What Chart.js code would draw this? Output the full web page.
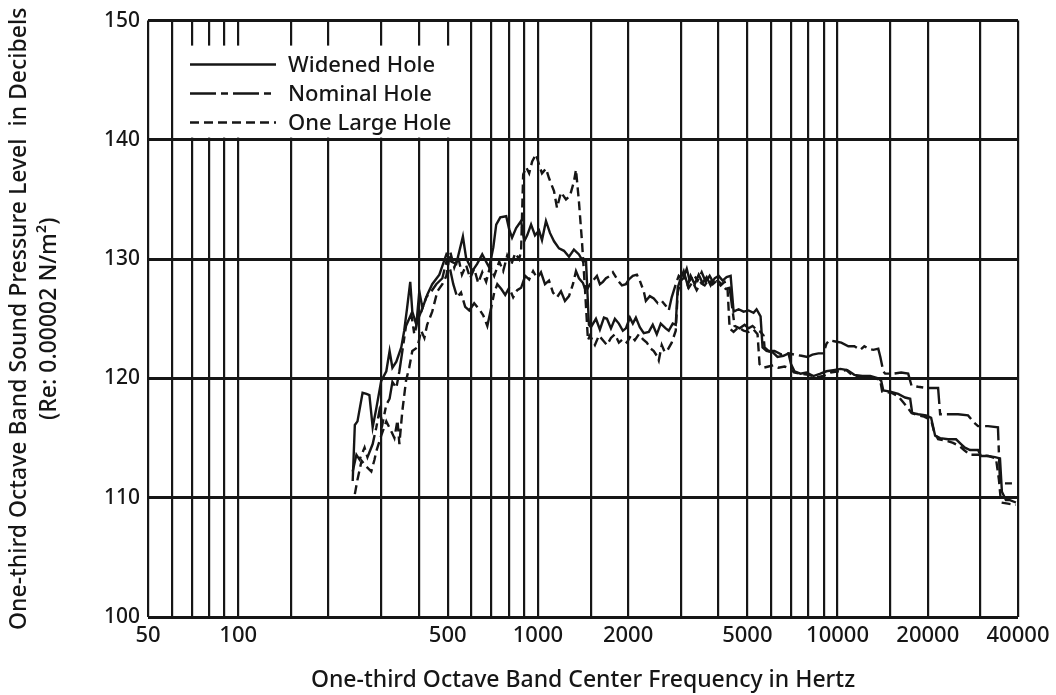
<!DOCTYPE html>
<html>
<head>
<meta charset="utf-8">
<script src="https://cdn.jsdelivr.net/npm/chart.js@4.4.1/dist/chart.umd.min.js"></script>
<style>
  html, body { margin: 0; padding: 0; background: #fff; }
  #wrap { width: 1056px; height: 695px; }
</style>
</head>
<body>
<div id="wrap"><canvas id="myChart" width="1056" height="695"></canvas></div>
<script>
// one-third octave spectra (Hz, dB)
var widenedFreq = [241,245,250,260,268,274,281,289,300,312,320,327,337,350,358,366,375,381,393,402,412,427,444,469,495,514,534,562,576,604,627,652,688,710,726,749,784,802,820,846,879,900,921,949,978,1009,1032,1064,1097,1132,1176,1222,1270,1319,1371,1414,1447,1480,1503,1562,1610,1661,1700,1753,1807,1863,1921,1966,2027,2074,2123,2188,2256,2345,2417,2493,2570,2670,2733,2818,2884,2928,2997,3066,3162,3234,3336,3440,3547,3657,3771,3889,4010,4134,4263,4397,4498,4675,4857,5047,5244,5366,5534,5619,5793,6066,6304,6600,6858,6991,7181,7519,7871,8306,8764,9177,9682,10216,10778,11374,12088,12856,13670,13985,14204,15000,15933,16800,17470,17740,18573,19740,20520,21160,21990,23374,24850,25820,26600,27670,29418,30110,31762,33515,34830,35350,36460,37600,39360]
var widenedDb = [111.4,116.1,116.4,118.8,118.7,118.6,115.9,117.5,119.8,120.6,122.3,120.9,121.4,122.6,124.0,125.9,128.1,125.6,124.5,127.3,125.9,127.0,127.9,128.7,130.4,129.8,129.6,131.9,130.1,129.0,129.6,130.4,129.3,131.0,132.9,133.5,133.6,132.5,131.8,132.6,133.2,131.5,132.0,132.9,132.0,132.4,131.6,133.2,132.2,131.5,130.9,130.7,130.2,130.8,130.4,129.8,129.9,124.5,124.3,125.0,124.1,125.1,125.0,124.2,125.0,124.6,124.0,124.2,125.1,124.6,125.1,124.3,123.8,123.9,124.5,123.7,124.6,124.2,124.0,124.6,124.5,127.6,128.4,129.0,127.8,128.6,127.9,128.7,128.0,128.5,127.8,128.4,128.6,128.2,128.5,128.6,125.6,125.8,125.6,125.7,125.5,125.8,125.2,122.6,122.3,122.2,121.8,121.9,122.1,121.2,120.6,120.4,120.5,120.2,120.4,120.6,120.7,120.8,120.7,120.3,120.2,120.2,120.0,119.8,119.0,118.9,118.7,118.4,118.3,117.1,117.0,116.9,116.7,115.2,115.0,114.9,114.9,114.5,114.2,114.0,114.0,113.5,113.5,113.4,113.3,110.5,109.8,109.8,109.6]

var nominalFreq = [241,248,254,264,270,281,289,296,303,312,320,327,337,345,353,363,378,387,396,412,424,441,458,480,495,510,522,538,554,572,590,613,637,657,678,693,715,732,755,778,802,827,853,879,907,935,964,994,1024,1056,1089,1123,1158,1194,1231,1270,1309,1340,1371,1414,1447,1492,1538,1574,1610,1648,1687,1739,1780,1821,1863,1907,1966,2011,2074,2140,2188,2256,2292,2363,2436,2512,2590,2670,2733,2796,2884,2951,3043,3138,3210,3310,3413,3520,3629,3742,3859,3979,4103,4231,4363,4532,4710,4895,5047,5204,5366,5534,5662,5706,5883,6160,6500,6858,7181,7576,7932,8243,8630,8968,9177,9390,9830,10291,10862,11374,11910,12280,12661,13156,13670,13890,14204,14420,15334,16300,17202,17650,18573,19740,21650,21990,23374,25236,27246,28530,29418,31762,34293,34830,37025,39360]
var nominalDb = [112.2,113.6,113.2,114.2,113.4,114.5,115.9,117.3,116.2,117.8,118.3,119.7,119.2,120.6,122.3,124.4,125.4,123.7,124.8,125.9,126.8,127.3,127.9,128.4,129.8,129.1,127.9,126.8,127.2,126.0,125.7,126.3,125.8,125.3,124.4,125.5,127.2,127.9,127.5,127.0,127.6,126.8,127.4,127.6,128.6,128.3,129.0,128.4,128.9,127.9,128.2,127.2,126.8,127.3,126.5,126.9,127.9,129.0,128.4,128.0,127.3,127.9,128.3,128.6,127.9,128.1,128.4,128.6,128.9,128.5,128.1,127.8,127.9,128.3,128.6,128.7,128.2,127.3,126.5,126.9,126.7,126.3,126.5,126.1,125.7,126.8,127.9,128.6,128.3,129.2,128.2,128.7,128.2,128.9,128.1,128.6,128.0,128.2,127.9,127.5,127.6,124.4,124.2,124.5,124.2,124.4,124.1,123.9,123.6,122.6,122.3,122.3,122.0,122.1,122.0,121.9,121.8,122.0,122.1,122.1,122.9,123.2,123.1,123.0,122.7,122.7,122.4,122.7,122.5,122.4,122.5,121.8,120.6,120.4,120.4,120.5,120.4,119.4,119.3,119.2,119.2,117.0,117.0,117.0,116.9,116.3,116.0,116.0,115.9,111.2,111.2,111.2]

var largeFreq = [245,250,258,268,278,285,289,300,312,325,332,340,345,353,363,372,381,396,408,418,427,444,462,480,495,510,526,542,558,576,594,613,632,652,672,693,715,743,766,790,814,840,866,879,893,914,935,957,986,1009,1032,1064,1089,1132,1158,1194,1241,1279,1319,1340,1371,1403,1436,1469,1492,1550,1598,1648,1700,1753,1807,1863,1921,1981,2043,2106,2172,2239,2309,2381,2436,2493,2531,2590,2651,2712,2796,2884,2928,2997,3090,3186,3285,3387,3493,3601,3714,3830,3949,4071,4197,4296,4363,4498,4675,4857,5047,5244,5407,5491,5662,5883,6113,6352,6652,6966,7153,7519,7994,8500,8968,9463,10060,10700,11286,11910,12661,13460,13890,14090,15100,15933,16555,17070,17650,18573,19450,20520,21000,21650,22850,24288,25620,26420,27670,29418,31762,33770,34550,35100,37025,39360]
var largeDb = [110.3,111.5,113.1,112.6,112.2,113.2,113.9,115.2,116.4,115.5,115.0,116.5,114.5,117.3,119.8,120.9,122.3,122.6,124.0,123.4,124.5,125.6,127.3,127.9,128.6,130.6,129.3,130.2,128.7,129.5,128.4,129.2,128.0,128.9,128.1,129.4,128.6,129.8,129.0,130.3,129.5,130.5,130.0,130.7,137.1,137.7,137.2,138.2,138.8,137.9,137.2,137.6,136.8,135.7,134.3,135.6,135.0,135.3,136.5,137.5,134.8,131.5,127.5,123.2,123.6,122.8,123.6,123.2,122.8,123.4,123.7,123.0,123.3,123.0,123.6,123.2,123.7,123.3,123.0,122.5,122.3,121.9,121.5,122.8,122.2,122.4,123.0,124.0,127.2,128.2,128.5,127.6,128.1,127.4,128.0,127.8,128.3,127.9,128.2,127.8,128.1,127.4,124.2,123.9,124.3,124.0,123.9,124.1,123.7,121.2,120.9,121.0,121.1,120.9,121.0,120.8,120.5,120.4,120.3,120.1,120.2,120.5,120.6,120.7,120.2,120.1,120.1,120.0,119.8,118.9,118.8,118.5,118.0,117.6,117.1,116.9,116.8,116.5,115.5,114.9,114.8,114.6,114.3,114.0,113.6,113.6,113.5,113.3,111.5,109.6,109.5,109.4]

// chart paper rulings and printed labels
var gridFreqs = [50,60,70,80,90,100,150,200,300,400,500,600,700,800,900,1000,1500,2000,3000,4000,5000,6000,7000,8000,9000,10000,15000,20000,30000,40000]
var labelFreqs = [50,100,500,1000,2000,5000,10000,20000,40000]
var dbTicks = [100,110,120,130,140,150]

function toPoints(xs, ys) {
    var pts = []
    for (var i in xs) {
        pts.push({ x: xs[i], y: ys[i] })
    }
    return pts
}

var ink = '#161616'
var fontName = '"Noto Sans", "DejaVu Sans", sans-serif'

// legend drawn inside the plot, top-left, on a white patch
var legendBox = {
    id: 'legendBox',
    afterDatasetsDraw: function (chart) {
        var ctx = chart.ctx
        var area = chart.chartArea
        var bx = area.left + 28, by = area.top + 25
        ctx.save()
        ctx.fillStyle = '#fff'
        ctx.fillRect(bx, by, 290, 92)
        ctx.font = '500 22px ' + fontName
        ctx.textBaseline = 'middle'
        chart.data.datasets.forEach(function (ds, i) {
            var y = by + 19 + i * 29
            ctx.strokeStyle = ink
            ctx.lineWidth = 2.5
            ctx.setLineDash(ds.borderDash || [])
            ctx.beginPath()
            ctx.moveTo(bx + 14, y)
            ctx.lineTo(bx + 100, y)
            ctx.stroke()
            ctx.setLineDash([])
            ctx.fillStyle = ink
            ctx.fillText(ds.label, bx + 112, y + 1)
        })
        ctx.restore()
    }
}

var ctx = document.getElementById('myChart').getContext('2d');
var chart = new Chart(ctx, {
    type: 'line',
    data: {
        datasets: [{
            label: 'Widened Hole',
            data: toPoints(widenedFreq, widenedDb),
            borderColor: ink,
            borderWidth: 2.4,
            borderDash: []
        }, {
            label: 'Nominal Hole',
            data: toPoints(nominalFreq, nominalDb),
            borderColor: ink,
            borderWidth: 2.4,
            borderDash: [26, 5, 7, 5]
        }, {
            label: 'One Large Hole',
            data: toPoints(largeFreq, largeDb),
            borderColor: ink,
            borderWidth: 2.4,
            borderDash: [9, 5]
        }]
    },
    options: {
        responsive: false,
        animation: false,
        elements: { point: { radius: 0 }, line: { tension: 0 } },
        layout: { padding: { top: 19, right: 38, left: 0, bottom: 0 } },
        plugins: { legend: { display: false }, tooltip: { enabled: false } },
        scales: {
            x: {
                type: 'logarithmic',
                min: 50,
                max: 40000,
                afterBuildTicks: function (scale) {
                    scale.ticks = gridFreqs.map(function (v) { return { value: v } })
                },
                afterFit: function (scale) { scale.height = 78 },
                grid: { color: ink, lineWidth: 2.2, drawTicks: false },
                border: { display: false },
                ticks: {
                    autoSkip: false,
                    maxRotation: 0,
                    padding: 6,
                    color: ink,
                    font: { family: fontName, size: 22, weight: 500 },
                    callback: function (val) {
                        return labelFreqs.indexOf(val) >= 0 ? String(val) : ''
                    }
                },
                title: {
                    display: true,
                    text: 'One-third Octave Band Center Frequency in Hertz',
                    color: ink,
                    font: { family: fontName, size: 23, weight: 500, lineHeight: 1.2 },
                    padding: { top: 0, bottom: 1 }
                }
            },
            y: {
                min: 100,
                max: 150,
                afterBuildTicks: function (scale) {
                    scale.ticks = dbTicks.map(function (v) { return { value: v } })
                },
                afterFit: function (scale) { scale.width = 148 },
                grid: { color: ink, lineWidth: 3, drawTicks: false },
                border: { display: false },
                ticks: {
                    padding: 8,
                    color: ink,
                    font: { family: fontName, size: 21, weight: 500 }
                },
                title: {
                    display: true,
                    text: ['One-third Octave Band Sound Pressure Level  in Decibels', '(Re: 0.00002 N/m\u00b2)'],
                    color: ink,
                    font: { family: fontName, size: 23, weight: 500, lineHeight: 30 / 23 },
                    padding: { top: 4, bottom: 0 }
                }
            }
        }
    },
    plugins: [legendBox]
});
</script>
</body>
</html>
